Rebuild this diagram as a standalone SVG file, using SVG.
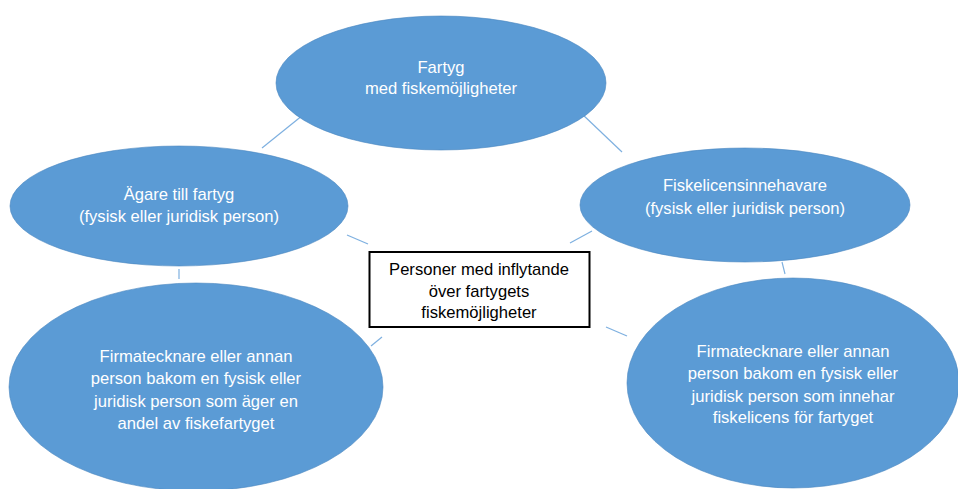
<svg xmlns="http://www.w3.org/2000/svg" width="958" height="489" viewBox="0 0 958 489">
<style>
.node{fill:#5b9bd5;stroke:#4a86c0;stroke-width:0.6}
.t{font-family:"Liberation Sans",Arial,sans-serif;font-size:16.6px;fill:#ffffff;text-anchor:middle}
.tb{font-family:"Liberation Sans",Arial,sans-serif;font-size:16.6px;fill:#000000;text-anchor:middle}
.c line{stroke:#7eb0e0;stroke-width:1.2}
</style>
<rect width="958" height="489" fill="#ffffff"/>
<g class="c" id="connectors">
<line x1="303" y1="115" x2="262" y2="148"/>
<line x1="581" y1="113" x2="622" y2="152"/>
<line x1="347" y1="235" x2="368" y2="244"/>
<line x1="570" y1="243" x2="592" y2="231"/>
<line x1="371" y1="346" x2="382" y2="337"/>
<line x1="606" y1="327" x2="627" y2="336"/>
<line x1="179" y1="269" x2="179" y2="279"/>
<line x1="782" y1="262" x2="785" y2="274"/>
</g>
<g id="fartyg">
<ellipse class="node" cx="441" cy="83" rx="165" ry="67"/>
<text class="t" x="441" y="73">Fartyg</text>
<text class="t" x="441" y="94">med fiskemöjligheter</text>
</g>
<g id="agare">
<ellipse class="node" cx="179" cy="206" rx="169" ry="60"/>
<text class="t" x="179" y="200">Ägare till fartyg</text>
<text class="t" x="179" y="222">(fysisk eller juridisk person)</text>
</g>
<g id="fiskelicens">
<ellipse class="node" cx="745" cy="205" rx="165" ry="57"/>
<text class="t" x="745" y="191">Fiskelicensinnehavare</text>
<text class="t" x="745" y="214">(fysisk eller juridisk person)</text>
</g>
<g id="personer">
<rect x="369.5" y="252" width="220" height="75" fill="#ffffff" stroke="#000000" stroke-width="2"/>
<text class="tb" x="479" y="275">Personer med inflytande</text>
<text class="tb" x="479" y="297">över fartygets</text>
<text class="tb" x="479" y="318">fiskemöjligheter</text>
</g>
<g id="firmatecknare-agare">
<ellipse class="node" cx="196" cy="387" rx="187" ry="104"/>
<text class="t" x="196" y="362">Firmatecknare eller annan</text>
<text class="t" x="196" y="384">person bakom en fysisk eller</text>
<text class="t" x="196" y="407">juridisk person som äger en</text>
<text class="t" x="196" y="429">andel av fiskefartyget</text>
</g>
<g id="firmatecknare-licens">
<ellipse class="node" cx="793" cy="383" rx="166" ry="105"/>
<text class="t" x="793" y="357">Firmatecknare eller annan</text>
<text class="t" x="793" y="379">person bakom en fysisk eller</text>
<text class="t" x="793" y="402">juridisk person som innehar</text>
<text class="t" x="793" y="423">fiskelicens för fartyget</text>
</g>
</svg>
